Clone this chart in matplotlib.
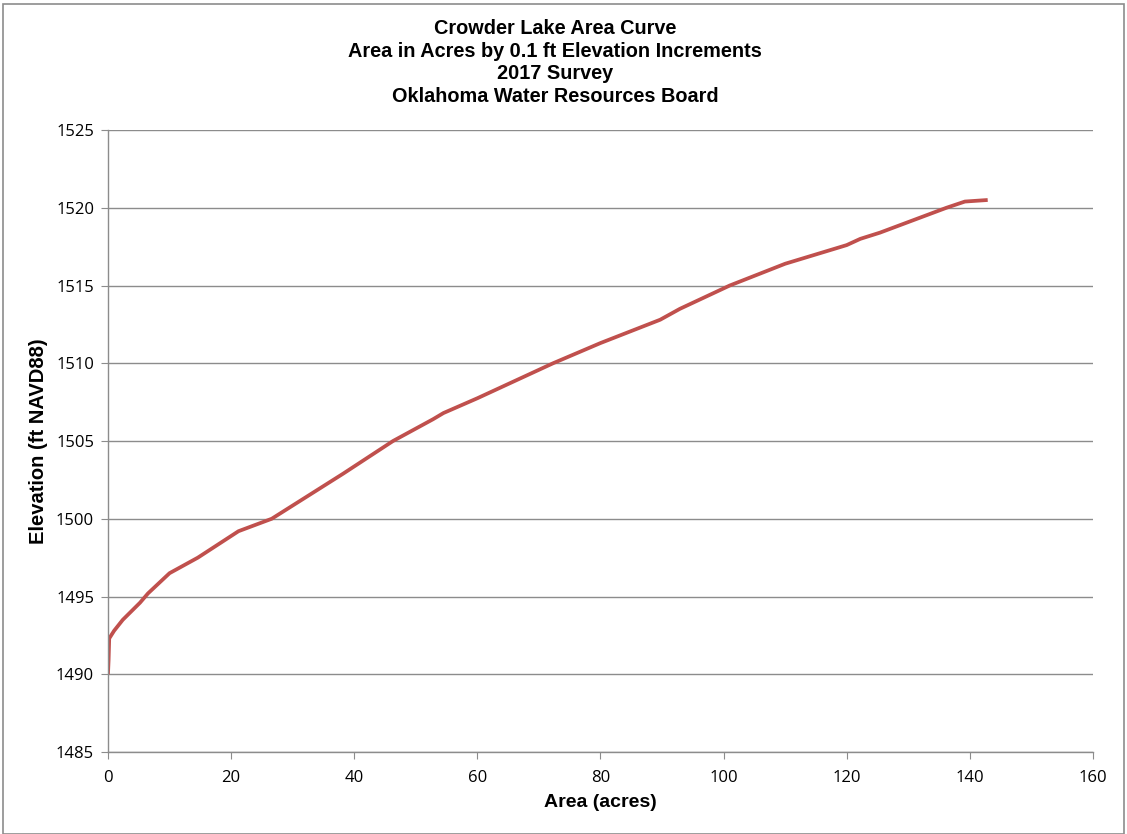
import matplotlib

matplotlib.use("Agg")
import matplotlib.pyplot as plt
from matplotlib.patches import Rectangle

# values
area_acres = [0.0, 0.1, 0.2, 1.0, 2.4, 5.2, 6.5, 10.0, 14.6, 21.2, 26.6, 38.2,
              46.3, 52.8, 54.5, 60.0, 72.3, 80.0, 89.7, 92.9, 101.0, 110.0,
              120.0, 122.2, 125.4, 136.2, 139.2, 142.9]
elevation_ft = [1490.0, 1490.9, 1492.3, 1492.8, 1493.5, 1494.6, 1495.2, 1496.5,
                1497.5, 1499.2, 1500.0, 1502.9, 1505.0, 1506.4, 1506.8, 1507.75,
                1510.0, 1511.3, 1512.8, 1513.5, 1515.0, 1516.4, 1517.6, 1518.0,
                1518.4, 1520.0, 1520.4, 1520.5]

title_lines = ["Crowder Lake Area Curve",
               "Area in Acres by 0.1 ft Elevation Increments",
               "2017 Survey",
               "Oklahoma Water Resources Board"]

grid_grey = "#8c8c8c"
line_red = "#C0504D"

fig = plt.figure(figsize=(11.27, 8.34), dpi=100)
fig.patches.append(Rectangle((0.003, 0.0), 0.994, 0.995, transform=fig.transFigure,
                             fill=False, edgecolor="#8c8c8c", linewidth=1.2))

ax = fig.add_axes([0.0958, 0.0983, 0.874, 0.7458])
ax.plot(area_acres, elevation_ft, color=line_red, linewidth=2.7, solid_capstyle="butt")

ax.set_xlim(0, 160)
ax.set_ylim(1485, 1525)
ax.set_xticks(range(0, 161, 20))
ax.set_yticks(range(1485, 1526, 5))
ax.yaxis.grid(True, color=grid_grey, linewidth=1.0)
ax.set_axisbelow(True)

for side in ("top", "right"):
    ax.spines[side].set_visible(False)
for side in ("left", "bottom"):
    ax.spines[side].set_color(grid_grey)
    ax.spines[side].set_linewidth(1.0)
ax.tick_params(direction="out", length=5, color=grid_grey, labelsize=12,
               labelcolor="black")
ax.tick_params(axis="x", pad=8)
ax.tick_params(axis="y", pad=5)
for lbl in ax.get_xticklabels() + ax.get_yticklabels():
    lbl.set_family("Open Sans")

ax.set_xlabel("Area (acres)", fontsize=14, fontweight="bold",
              family="Liberation Sans", labelpad=6)
ax.set_ylabel("Elevation (ft NAVD88)", fontsize=14.5, fontweight="bold",
              family="Liberation Sans", labelpad=6)

fig.text(0.4925, 0.925, "\n".join(title_lines), ha="center", va="center",
         fontsize=14.3, fontweight="bold", family="Liberation Sans", linespacing=1.25)

fig.savefig("out.png", dpi=100)
